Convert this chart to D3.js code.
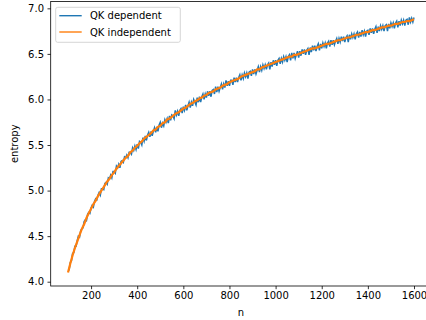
<!DOCTYPE html>
<html>
<head>
<meta charset="utf-8">
<script src="https://cdn.jsdelivr.net/npm/d3@7"></script>
<style>
  body { margin: 0; background: #fff; }
  svg { display: block; font-family: "DejaVu Sans", sans-serif; }
</style>
</head>
<body>
<svg id="chart" width="426" height="320"></svg>
<script>
// sample positions (n)
const nDependent = d3.range(100, 1601, 5)
const nIndependent = d3.range(100, 1601, 10)

// QK dependent (noisy), one value every 5 n
const dependent = [
  4.13, 4.13, 4.21, 4.23, 4.31, 4.32, 4.39, 4.39, 4.45, 4.50,
  4.49, 4.56, 4.58, 4.59, 4.66, 4.68, 4.67, 4.74, 4.76, 4.75,
  4.81, 4.84, 4.82, 4.88, 4.91, 4.90, 4.95, 4.98, 4.95, 5.02,
  5.02, 5.01, 5.08, 5.09, 5.07, 5.14, 5.13, 5.17, 5.14, 5.21,
  5.21, 5.19, 5.27, 5.25, 5.29, 5.25, 5.32, 5.33, 5.31, 5.37,
  5.36, 5.39, 5.36, 5.42, 5.42, 5.40, 5.47, 5.44, 5.49, 5.45,
  5.51, 5.46, 5.54, 5.53, 5.50, 5.58, 5.54, 5.60, 5.55, 5.61,
  5.64, 5.59, 5.65, 5.60, 5.65, 5.69, 5.64, 5.70, 5.65, 5.72,
  5.75, 5.69, 5.74, 5.71, 5.78, 5.75, 5.79, 5.74, 5.82, 5.77,
  5.83, 5.82, 5.79, 5.88, 5.83, 5.87, 5.82, 5.88, 5.90, 5.85,
  5.92, 5.88, 5.94, 5.88, 5.93, 5.97, 5.91, 5.97, 5.93, 6.00,
  5.97, 5.94, 6.02, 5.97, 6.03, 5.97, 6.03, 6.06, 6.00, 6.06,
  6.02, 6.09, 6.04, 6.09, 6.03, 6.10, 6.11, 6.06, 6.14, 6.08,
  6.14, 6.09, 6.13, 6.17, 6.11, 6.17, 6.13, 6.21, 6.15, 6.20,
  6.15, 6.21, 6.21, 6.16, 6.24, 6.19, 6.24, 6.19, 6.24, 6.27,
  6.21, 6.27, 6.23, 6.29, 6.25, 6.29, 6.23, 6.30, 6.31, 6.26,
  6.33, 6.28, 6.33, 6.28, 6.32, 6.36, 6.30, 6.36, 6.32, 6.38,
  6.34, 6.38, 6.33, 6.38, 6.40, 6.33, 6.41, 6.36, 6.43, 6.38,
  6.43, 6.37, 6.43, 6.45, 6.39, 6.45, 6.41, 6.47, 6.43, 6.47,
  6.41, 6.47, 6.49, 6.43, 6.51, 6.45, 6.51, 6.45, 6.49, 6.53,
  6.46, 6.53, 6.48, 6.55, 6.50, 6.55, 6.49, 6.54, 6.56, 6.49,
  6.57, 6.52, 6.59, 6.54, 6.59, 6.53, 6.58, 6.61, 6.54, 6.61,
  6.56, 6.62, 6.58, 6.62, 6.56, 6.62, 6.64, 6.58, 6.65, 6.60,
  6.65, 6.60, 6.64, 6.67, 6.61, 6.67, 6.63, 6.69, 6.64, 6.69,
  6.63, 6.68, 6.70, 6.63, 6.71, 6.66, 6.72, 6.68, 6.72, 6.66,
  6.72, 6.74, 6.68, 6.74, 6.69, 6.76, 6.71, 6.75, 6.69, 6.75,
  6.76, 6.71, 6.78, 6.73, 6.78, 6.72, 6.77, 6.80, 6.73, 6.80,
  6.75, 6.81, 6.77, 6.81, 6.75, 6.81, 6.82, 6.75, 6.83, 6.78,
  6.84, 6.80, 6.84, 6.78, 6.84, 6.86, 6.79, 6.86, 6.81, 6.87,
  6.83, 6.87, 6.81, 6.87, 6.88, 6.82, 6.90, 6.85, 6.89, 6.85,
  6.90
]

// QK independent (smoother), one value every 10 n
const independent = [
  4.10, 4.20, 4.29, 4.37, 4.44, 4.51, 4.58, 4.63, 4.70, 4.75,
  4.80, 4.85, 4.89, 4.94, 4.98, 5.02, 5.06, 5.10, 5.13, 5.17,
  5.20, 5.24, 5.27, 5.30, 5.33, 5.36, 5.38, 5.42, 5.44, 5.47,
  5.49, 5.52, 5.54, 5.57, 5.59, 5.61, 5.63, 5.66, 5.67, 5.70,
  5.71, 5.74, 5.75, 5.78, 5.79, 5.81, 5.83, 5.85, 5.86, 5.88,
  5.90, 5.91, 5.93, 5.95, 5.96, 5.98, 5.99, 6.01, 6.02, 6.04,
  6.05, 6.07, 6.08, 6.09, 6.11, 6.12, 6.13, 6.15, 6.16, 6.17,
  6.19, 6.20, 6.21, 6.22, 6.23, 6.25, 6.26, 6.27, 6.28, 6.29,
  6.30, 6.31, 6.33, 6.33, 6.35, 6.36, 6.37, 6.38, 6.39, 6.40,
  6.41, 6.42, 6.43, 6.44, 6.45, 6.46, 6.47, 6.47, 6.49, 6.49,
  6.50, 6.51, 6.52, 6.53, 6.54, 6.55, 6.56, 6.56, 6.57, 6.58,
  6.59, 6.60, 6.61, 6.61, 6.62, 6.63, 6.64, 6.65, 6.65, 6.66,
  6.67, 6.68, 6.68, 6.69, 6.70, 6.71, 6.71, 6.72, 6.73, 6.74,
  6.74, 6.75, 6.76, 6.76, 6.77, 6.78, 6.79, 6.79, 6.80, 6.81,
  6.81, 6.82, 6.83, 6.83, 6.84, 6.85, 6.85, 6.86, 6.86, 6.87,
  6.88
]

const xTicks = [200, 400, 600, 800, 1000, 1200, 1400, 1600]
const yTicks = [4.0, 4.5, 5.0, 5.5, 6.0, 6.5, 7.0]
const seriesNames = ['QK dependent', 'QK independent']
const colors = ['#1f77b4', '#ff7f0e']

const svg = d3.select('#chart')
const plotLeft = 50.7, plotRight = 431.3, plotTop = 1.5, plotBottom = 286
const fontSize = 10

const x = d3.scaleLinear().domain([25, 1675]).range([plotLeft, plotRight])
const y = d3.scaleLinear().domain([3.953, 7.075]).range([plotBottom, plotTop])

// axes
svg.append('g')
  .attr('transform', `translate(0,${plotBottom})`)
  .call(d3.axisBottom(x).tickValues(xTicks).tickSize(3.2).tickPadding(3).tickFormat(d3.format('d')))
svg.append('g')
  .attr('transform', `translate(${plotLeft},0)`)
  .call(d3.axisLeft(y).tickValues(yTicks).tickSize(3.2).tickPadding(3.5).tickFormat(d3.format('.1f')))

svg.selectAll('.tick text').attr('font-size', fontSize).attr('font-family', '"DejaVu Sans", sans-serif').attr('fill', '#000')
svg.selectAll('.tick line').attr('stroke', '#000').attr('stroke-width', 0.8)
svg.selectAll('.domain').remove()

// spines
svg.append('rect')
  .attr('x', plotLeft).attr('y', plotTop)
  .attr('width', plotRight - plotLeft).attr('height', plotBottom - plotTop)
  .attr('fill', 'none').attr('stroke', '#000').attr('stroke-width', 0.8)

// lines
const line = d3.line().x(d => x(d[0])).y(d => y(d[1]))
svg.append('path')
  .datum(nDependent.map((n, i) => [n, dependent[i]]))
  .attr('d', line)
  .attr('fill', 'none').attr('stroke', colors[0]).attr('stroke-width', 1.5)
svg.append('path')
  .datum(nIndependent.map((n, i) => [n, independent[i]]))
  .attr('d', line)
  .attr('fill', 'none').attr('stroke', colors[1]).attr('stroke-width', 2.2)

// axis labels
svg.append('text')
  .attr('x', (plotLeft + plotRight) / 2).attr('y', 316)
  .attr('text-anchor', 'middle').attr('font-size', fontSize)
  .text('n')
svg.append('text')
  .attr('transform', `translate(18,${(plotTop + plotBottom) / 2}) rotate(-90)`)
  .attr('text-anchor', 'middle').attr('font-size', fontSize)
  .text('entropy')

// legend
const legend = svg.append('g')
legend.append('rect')
  .attr('x', 55.7).attr('y', 7.3).attr('width', 124.6).attr('height', 35)
  .attr('rx', 2).attr('fill', '#fff').attr('fill-opacity', 0.8)
  .attr('stroke', '#ccc').attr('stroke-width', 0.8)
seriesNames.forEach((name, i) => {
  const ly = 15.7 + i * 16.3
  legend.append('line')
    .attr('x1', 59.3).attr('x2', 81.7).attr('y1', ly).attr('y2', ly)
    .attr('stroke', colors[i]).attr('stroke-width', 1.4)
  legend.append('text')
    .attr('x', 90).attr('y', ly).attr('dy', '0.35em')
    .attr('font-size', fontSize)
    .text(name)
})
</script>
</body>
</html>
